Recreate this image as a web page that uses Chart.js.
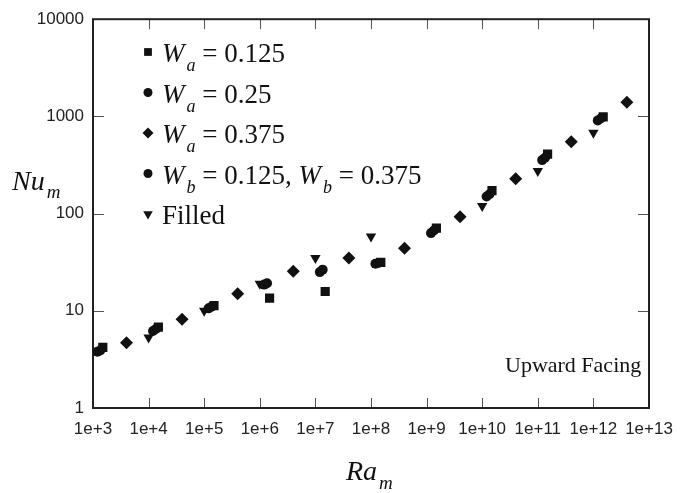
<!DOCTYPE html>
<html>
<head>
<meta charset="utf-8">
<script src="https://cdn.jsdelivr.net/npm/chart.js@4"></script>
<style>
  body { margin: 0; background: #fff; }
  #wrap { width: 691px; height: 493px; }
</style>
</head>
<body>
<div id="wrap"><canvas id="chart"></canvas></div>
<script>
// values
const raWa125 = [1.5e3, 1.5e4, 1.5e5, 1.5e6, 1.5e7, 1.5e8, 1.5e9, 1.5e10, 1.5e11, 1.5e12];
const nuWa125 = [4.2, 6.8, 11.3, 13.5, 15.8, 31.5, 71, 172, 410, 990];

const raWa25 = [1.2e3, 1.2e4, 1.2e5, 1.2e6, 1.2e7, 1.2e8, 1.2e9, 1.2e10, 1.2e11, 1.2e12];
const nuWa25 = [3.8, 6.2, 10.6, 18.6, 25, 30.5, 63, 150, 355, 910];

const raWa375 = [4e3, 4e4, 4e5, 4e6, 4e7, 4e8, 4e9, 4e10, 4e11, 4e12];
const nuWa375 = [4.7, 8.2, 15, 25.5, 35, 44, 93, 228, 550, 1400];

const raWb = [1.35e3, 1.35e4, 1.35e5, 1.35e6, 1.35e7, 1.35e8, 1.35e9, 1.35e10, 1.35e11, 1.35e12];
const nuWb = [3.9, 6.5, 11, 19.2, 26.5, 31, 67, 158, 375, 950];

const raFilled = [1e4, 1e5, 1e6, 1e7, 1e8, 1e10, 1e11, 1e12];
const nuFilled = [5.3, 10, 19, 35, 58, 120, 275, 680];

const xTicks = [1e3, 1e4, 1e5, 1e6, 1e7, 1e8, 1e9, 1e10, 1e11, 1e12, 1e13];
const yTicks = [1, 10, 100, 1000, 10000];

const ink = "#111";
const sans = "'Liberation Sans', Arial, sans-serif";
const serif = "'Liberation Serif', 'Times New Roman', serif";

function pts(xs, ys) {
  return xs.map((x, i) => ({ x: x, y: ys[i] }));
}

// text with italic letters and subscripts
function rich(ctx, x, y, parts) {
  parts.forEach((p) => {
    ctx.font = p.f;
    ctx.fillText(p.t, x, y + (p.dy || 0));
    x += ctx.measureText(p.t).width + (p.gap || 0);
  });
}

const legendRows = [
  { style: "rect", r: 5.5, rot: 0, sub: "a", vals: ["= 0.125"] },
  { style: "circle", r: 4.5, rot: 0, sub: "a", vals: ["= 0.25"] },
  { style: "rectRot", r: 5.5, rot: 0, sub: "a", vals: ["= 0.375"] },
  { style: "circle", r: 4.5, rot: 0, sub: "b", vals: ["= 0.125, ", "= 0.375"] },
  { style: "triangle", r: 5.5, rot: 180, sub: null, vals: ["Filled"] },
];

const frame = {
  id: "frame",
  beforeDatasetsDraw(chart) {
    const { ctx, chartArea: a, scales } = chart;
    ctx.save();
    ctx.strokeStyle = "#555";
    ctx.lineWidth = 1;
    ctx.beginPath();
    xTicks.slice(1, -1).forEach((v) => {
      const x = Math.round(scales.x.getPixelForValue(v)) + 0.5;
      ctx.moveTo(x, a.bottom);
      ctx.lineTo(x, a.bottom - 10);
      ctx.moveTo(x, a.top);
      ctx.lineTo(x, a.top + 10);
    });
    yTicks.slice(1, -1).forEach((v) => {
      const y = Math.round(scales.y.getPixelForValue(v)) + 0.5;
      ctx.moveTo(a.left, y);
      ctx.lineTo(a.left + 11, y);
      ctx.moveTo(a.right, y);
      ctx.lineTo(a.right - 11, y);
    });
    ctx.stroke();
    ctx.strokeStyle = "#222";
    ctx.lineWidth = 2;
    ctx.strokeRect(a.left, a.top, a.right - a.left, a.bottom - a.top);
    ctx.restore();
  },
  afterDraw(chart) {
    const ctx = chart.ctx;
    ctx.save();
    ctx.fillStyle = ink;
    ctx.textBaseline = "alphabetic";
    ctx.textAlign = "left";

    // legend
    legendRows.forEach((row, i) => {
      const base = 62 + i * 40.5;
      const my = base - 10;
      if (Chart.helpers && Chart.helpers.drawPoint) {
        Chart.helpers.drawPoint(ctx, { pointStyle: row.style, radius: row.r, rotation: row.rot, borderWidth: 0 }, 148, my);
      }
      if (!row.sub) {
        rich(ctx, 162, base, [{ t: row.vals[0], f: "27px " + serif }]);
        return;
      }
      const parts = [];
      row.vals.forEach((v) => {
        parts.push({ t: "W", f: "italic 27px " + serif, gap: 2 });
        parts.push({ t: row.sub, f: "italic 18px " + serif, dy: 9 });
        parts.push({ t: " " + v, f: "27px " + serif });
      });
      rich(ctx, 162, base, parts);
    });

    // axis titles
    rich(ctx, 12, 190, [
      { t: "Nu", f: "italic 28px " + serif, gap: 2 },
      { t: "m", f: "italic 19px " + serif, dy: 8 },
    ]);
    rich(ctx, 346, 480, [
      { t: "Ra", f: "italic 28px " + serif, gap: 2 },
      { t: "m", f: "italic 19px " + serif, dy: 9 },
    ]);

    ctx.font = "22px " + serif;
    ctx.fillText("Upward Facing", 505, 372);
    ctx.restore();
  },
};

function series(label, xs, ys, style, radius, rotation) {
  return {
    label: label,
    data: pts(xs, ys),
    pointStyle: style,
    pointRadius: radius,
    pointRotation: rotation || 0,
    pointBackgroundColor: ink,
    pointBorderColor: ink,
    pointBorderWidth: 0,
    showLine: false,
  };
}

new Chart(document.getElementById("chart"), {
  type: "scatter",
  data: {
    datasets: [
      series("Wa = 0.125", raWa125, nuWa125, "rect", 6.5),
      series("Wa = 0.25", raWa25, nuWa25, "circle", 5),
      series("Wa = 0.375", raWa375, nuWa375, "rectRot", 6.5),
      series("Wb = 0.125, Wb = 0.375", raWb, nuWb, "circle", 5),
      series("Filled", raFilled, nuFilled, "triangle", 6, 180),
    ],
  },
  options: {
    responsive: true,
    maintainAspectRatio: false,
    animation: false,
    layout: { padding: { top: 16, right: 42, left: 0, bottom: 0 } },
    plugins: {
      legend: { display: false },
      tooltip: { enabled: false },
    },
    scales: {
      x: {
        type: "logarithmic",
        min: 1e3,
        max: 1e13,
        grid: { display: false, drawTicks: false },
        border: { display: false },
        afterBuildTicks: (s) => {
          s.ticks = xTicks.map((v) => ({ value: v }));
        },
        afterFit: (s) => {
          s.height = 85;
        },
        ticks: {
          padding: 11,
          color: "#222",
          maxRotation: 0,
          autoSkip: false,
          font: { family: sans, size: 17 },
          callback: (v) => "1e+" + Math.round(Math.log10(v)),
        },
      },
      y: {
        type: "logarithmic",
        min: 1,
        max: 10000,
        grid: { display: false, drawTicks: false },
        border: { display: false },
        afterBuildTicks: (s) => {
          s.ticks = yTicks.map((v) => ({ value: v }));
        },
        afterFit: (s) => {
          s.width = 93;
        },
        ticks: {
          padding: 9,
          color: "#222",
          autoSkip: false,
          font: { family: sans, size: 17 },
          callback: (v) => String(Math.round(v)),
        },
      },
    },
  },
  plugins: [frame],
});
</script>
</body>
</html>
